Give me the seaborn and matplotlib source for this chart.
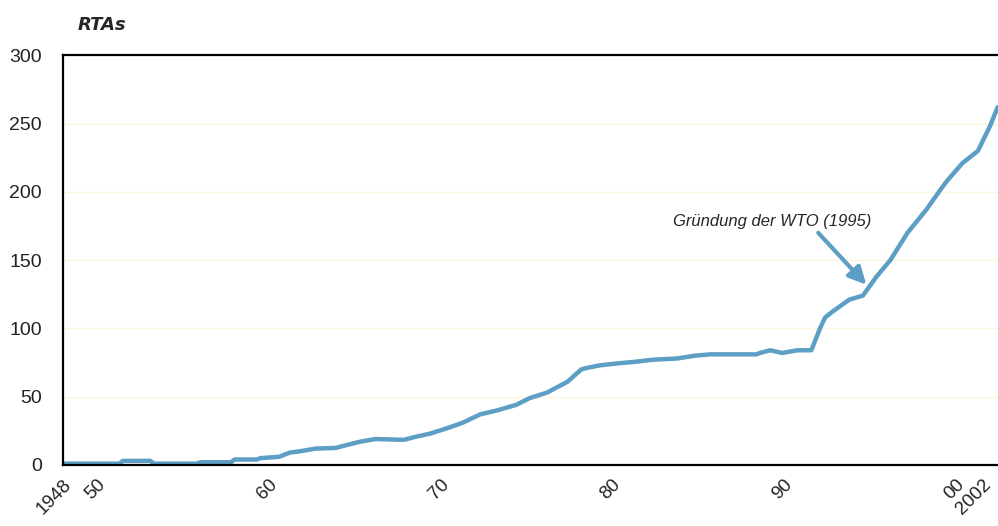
import numpy as np
import pandas as pd
import seaborn as sns
import matplotlib.pyplot as plt
import matplotlib.transforms as mtransforms

# number of regional trade agreements in force
years = [1948, 1951.3, 1951.5, 1953.1, 1953.3, 1955.8, 1956, 1957.8, 1958, 1959.3,
         1959.5, 1960.6, 1961.2, 1961.8, 1962.7, 1963.9, 1964.5, 1965.3, 1966.2, 1967.6,
         1967.9, 1968.5, 1969.4, 1970.4, 1971.3, 1972.3, 1973.3, 1974.4, 1975.2, 1976.2,
         1977.4, 1978.2, 1978.5, 1979.3, 1980.4, 1981.3, 1982.3, 1983.8, 1984.8, 1985.7,
         1988.4, 1988.6, 1989.2, 1989.9, 1990.8, 1991.6, 1992.1, 1992.4, 1992.8, 1993.8,
         1994.6, 1995.4, 1996.2, 1997.2, 1998.3, 1999.2, 1999.5, 2000.4, 2001.3, 2002,
         2002.45]
rtas = [1, 1, 3, 3, 1, 1, 2, 2, 4, 4,
        5, 6, 9, 10, 12, 12.5, 14.5, 17, 19, 18.5,
        18.5, 20.5, 23, 27, 31, 37, 40, 44, 49, 53,
        61, 70, 71, 73, 74.5, 75.5, 77, 78, 80, 81,
        81, 82, 84, 82, 84, 84, 100, 108, 112, 121,
        124, 138, 150, 170, 187, 203, 208, 221, 230, 248,
        262]

label_years = [1948, 1950, 1960, 1970, 1980, 1990, 2000, 2002]
label_texts = ['1948', '50', '60', '70', '80', '90', '00', '2002']

df = pd.DataFrame({'year': years, 'rtas': rtas})

sns.set_style('white')
plt.rcParams['font.family'] = ['Liberation Sans Narrow', 'Liberation Sans', 'DejaVu Sans']

blue = '#5d9fc4'

fig = plt.figure(figsize=(9.98, 5.26), dpi=100)
ax = fig.add_axes([0.063, 0.116, 0.937, 0.779])

ax.grid(axis='y', color='#fbf5e0', linewidth=1)
sns.lineplot(data=df, x='year', y='rtas', color=blue, linewidth=3.2, ax=ax, sort=False)

ax.set_xlim(1948, 2002.47)
ax.set_ylim(0, 300)
ax.set_yticks(np.arange(0, 301, 50))
ax.set_xticks(np.arange(1948, 2003, 1))
ax.set_xticklabels([label_texts[label_years.index(y)] if y in label_years else ''
                    for y in range(1948, 2003)],
                   rotation=45, ha='right', rotation_mode='anchor')
ax.tick_params(axis='both', direction='out', length=5, width=1.5, color='black',
               labelsize=14, labelcolor='#222222')
ax.tick_params(axis='x', pad=3, labelsize=13.5)
ax.tick_params(axis='y', pad=10)
ax.set_xlabel('')
ax.set_ylabel('')

# last label sits right at the figure edge, nudge it in a little
last = ax.get_xticklabels()[-1]
last.set_transform(last.get_transform() + mtransforms.ScaledTranslation(-5 / 72, 0, fig.dpi_scale_trans))

for side in ['left', 'bottom', 'top']:
    ax.spines[side].set_visible(True)
    ax.spines[side].set_color('black')
    ax.spines[side].set_linewidth(1.6)
ax.spines['right'].set_visible(False)

fig.text(0.078, 0.943, 'RTAs', fontsize=13, fontweight='bold', style='italic',
         family=['DejaVu Sans'])

ax.text(1989.3, 173, 'Gründung der WTO (1995)', fontsize=12, style='italic',
        ha='center', va='bottom')
ax.annotate('', xy=(1994.8, 132), xytext=(1992.0, 170),
            arrowprops=dict(arrowstyle='-|>', color=blue, lw=3, mutation_scale=26,
                            shrinkA=0, shrinkB=0))

fig.savefig('out.png', dpi=100)
